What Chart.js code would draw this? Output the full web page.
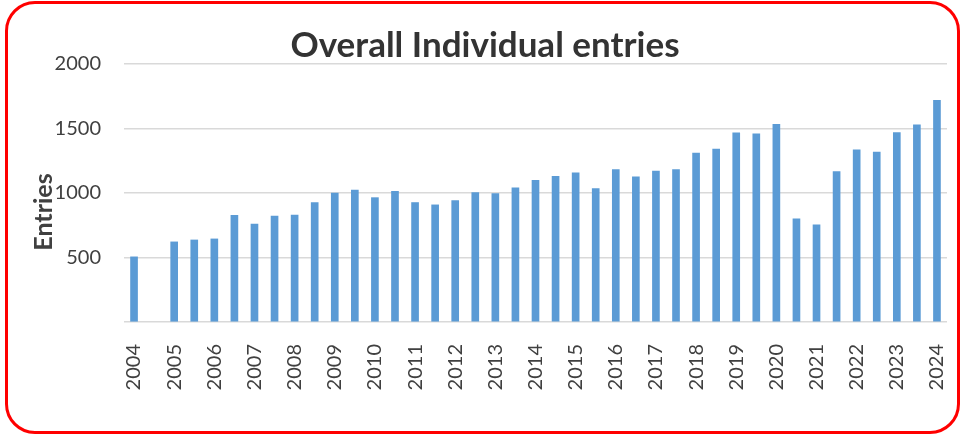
<!DOCTYPE html>
<html>
<head>
<meta charset="utf-8">
<script src="https://cdn.jsdelivr.net/npm/chart.js@4/dist/chart.umd.min.js"></script>
<style>
  html, body { margin: 0; padding: 0; background: #fff; }
  #frame {
    position: absolute;
    left: 5px; top: 1px;
    width: 955px; height: 433px;
    box-sizing: border-box;
    border: 3px solid #ff0000;
    border-radius: 30px;
  }
</style>
</head>
<body>
<div id="frame"><canvas id="entriesChart"></canvas></div>
<script>
// half-year slots, label only on the first of each year
const periods = ['2004', '', '2005', '', '2006', '', '2007', '', '2008', '', '2009', '',
  '2010', '', '2011', '', '2012', '', '2013', '', '2014', '', '2015', '', '2016', '',
  '2017', '', '2018', '', '2019', '', '2020', '', '2021', '', '2022', '', '2023', '', '2024'];
const entries = [505, null, 621, 636, 644, 826, 759, 821, 828, 926, 1000, 1023, 964, 1013,
  926, 908, 941, 1003, 995, 1041, 1098, 1129, 1157, 1034, 1182, 1126, 1169, 1182,
  1310, 1341, 1467, 1459, 1533, 800, 754, 1167, 1334, 1318, 1469, 1528, 1718];
const yTicks = [0, 500, 1000, 1500, 2000];

const textColor = '#404040';
const fontFamily = 'Lato, "Open Sans", sans-serif';

// y axis title sits a bit below the plot middle, like the excel original
const yTitlePlugin = {
    id: 'yTitle',
    afterDraw(chart) {
        const ctx = chart.ctx;
        const area = chart.chartArea;
        ctx.save();
        ctx.translate(36, (area.top + area.bottom) / 2 + 19);
        ctx.rotate(-Math.PI / 2);
        ctx.font = 'bold 25px ' + fontFamily;
        ctx.fillStyle = textColor;
        ctx.textAlign = 'center';
        ctx.textBaseline = 'middle';
        ctx.fillText('Entries', 0, 0);
        ctx.restore();
    }
};

// OVERALL ENTRIES BAR GRAPH
new Chart(document.getElementById('entriesChart'), {
    type: 'bar',
    data: {
        labels: periods,
        datasets: [{
            label: 'Entries',
            data: entries,
            backgroundColor: '#5b9bd5',
            barThickness: 7
        }]
    },
    options: {
        responsive: true,
        maintainAspectRatio: false,
        devicePixelRatio: 1,
        animation: false,
        layout: { padding: { left: 5, right: 0, top: 0, bottom: 0 } },
        scales: {
            x: {
                afterFit: (s) => { s.height = 109; s.paddingLeft = 0; s.paddingRight = 10; },
                grid: { display: false },
                border: { display: false },
                ticks: {
                    color: textColor,
                    font: { family: fontFamily, size: 20 },
                    minRotation: 90,
                    maxRotation: 90,
                    autoSkip: false,
                    padding: 14
                }
            },
            y: {
                min: yTicks[0],
                max: yTicks[yTicks.length - 1],
                afterBuildTicks: (axis) => { axis.ticks = yTicks.map(v => ({ value: v })); },
                afterFit: (s) => { s.width = 111; },
                grid: { color: '#d9d9d9', lineWidth: 1.5, drawTicks: false },
                border: { display: false },
                ticks: {
                    color: textColor,
                    font: { family: fontFamily, size: 20 },
                    padding: 23,
                    callback: (v) => v === 0 ? '' : v
                }
            }
        },
        plugins: {
            legend: { display: false },
            tooltip: { enabled: false },
            title: {
                display: true,
                text: 'Overall Individual entries',
                color: '#333333',
                font: { family: fontFamily, size: 35, weight: 'bold' },
                padding: { top: 21, bottom: -3 }
            }
        }
    },
    plugins: [yTitlePlugin]
});
</script>
</body>
</html>
